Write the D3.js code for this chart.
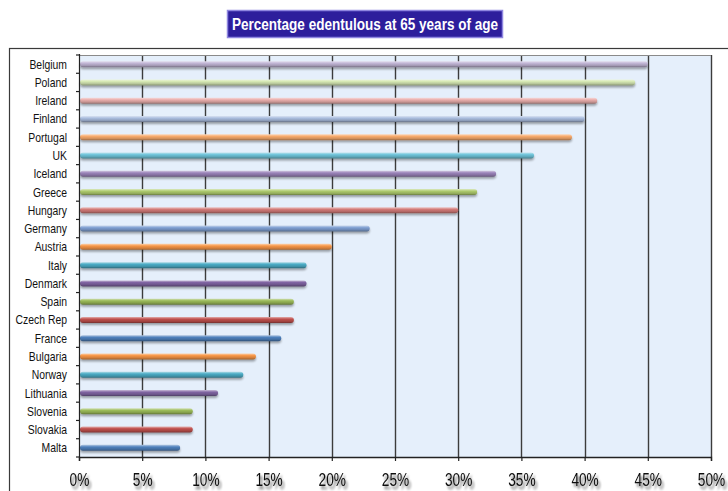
<!DOCTYPE html>
<html>
<head>
<meta charset="utf-8">
<script src="https://cdn.jsdelivr.net/npm/d3@7"></script>
<style>
  html, body { margin: 0; padding: 0; background: #ffffff; }
  svg { display: block; }
</style>
</head>
<body>
<script>
// Countries, top to bottom, and share of people edentulous at age 65 (%)
const countries = ["Belgium","Poland","Ireland","Finland","Portugal","UK","Iceland","Greece","Hungary","Germany","Austria","Italy","Denmark","Spain","Czech Rep","France","Bulgaria","Norway","Lithuania","Slovenia","Slovakia","Malta"];
const values = [45, 44, 41, 40, 39, 36, 33, 31.5, 30, 23, 20, 18, 18, 17, 17, 16, 14, 13, 11, 9, 9, 8];
const barColors = ["#c2b6d6","#d6e8b4","#eaaeac","#abbee0","#f8aa6c","#6fc4da","#9b84ba","#aecb6e","#d27a77","#7f9fd2","#f79646","#4bacc6","#8064a2","#9bbb59","#c0504d","#4f81bd","#f79646","#4bacc6","#8064a2","#9bbb59","#c0504d","#4f81bd"];
const tickValues = [0, 5, 10, 15, 20, 25, 30, 35, 40, 45, 50];
const titleText = "Percentage edentulous at 65 years of age";

const W = 728, H = 491;
const plot = { left: 79, right: 711, top: 55, bottom: 457 };
const FONT = "'Liberation Sans', Arial, sans-serif";

const svg = d3.select("body").append("svg").attr("width", W).attr("height", H);
const defs = svg.append("defs");

// Cylinder-like shading for every bar colour
barColors.forEach((c, i) => {
  const base = d3.color(c);
  const g = defs.append("linearGradient").attr("id", "bar" + i)
    .attr("x1", 0).attr("y1", 0).attr("x2", 0).attr("y2", 1);
  g.append("stop").attr("offset", "0%").attr("stop-color", d3.interpolateRgb(c, "#ffffff")(0.55));
  g.append("stop").attr("offset", "35%").attr("stop-color", base.formatHex());
  g.append("stop").attr("offset", "75%").attr("stop-color", base.darker(0.5).formatHex());
  g.append("stop").attr("offset", "100%").attr("stop-color", base.darker(1.4).formatHex());
});

const shadow = defs.append("filter").attr("id", "txtShadow")
  .attr("x", "-30%").attr("y", "-30%").attr("width", "170%").attr("height", "170%");
shadow.append("feGaussianBlur").attr("in", "SourceAlpha").attr("stdDeviation", 1.6).attr("result", "b");
shadow.append("feOffset").attr("in", "b").attr("dx", 3).attr("dy", 3).attr("result", "o");
shadow.append("feComponentTransfer").attr("in", "o").attr("result", "s")
  .append("feFuncA").attr("type", "linear").attr("slope", 0.6);
const sm = shadow.append("feMerge");
sm.append("feMergeNode").attr("in", "s");
sm.append("feMergeNode").attr("in", "SourceGraphic");

const barShadow = defs.append("filter").attr("id", "barShadow")
  .attr("x", "-5%").attr("y", "-80%").attr("width", "110%").attr("height", "260%");
barShadow.append("feGaussianBlur").attr("in", "SourceAlpha").attr("stdDeviation", 1).attr("result", "b");
barShadow.append("feOffset").attr("in", "b").attr("dx", 0).attr("dy", 1.5).attr("result", "o");
barShadow.append("feComponentTransfer").attr("in", "o").attr("result", "s")
  .append("feFuncA").attr("type", "linear").attr("slope", 0.35);
const bm = barShadow.append("feMerge");
bm.append("feMergeNode").attr("in", "s");
bm.append("feMergeNode").attr("in", "SourceGraphic");

// Outer chart frame
svg.append("rect").attr("x", 9.5).attr("y", 48.5).attr("width", W + 10).attr("height", H)
  .attr("fill", "#ffffff").attr("stroke", "#3a3a3a").attr("stroke-width", 1.2);

// Title banner
const tg = svg.append("g");
tg.append("rect").attr("x", 227.5).attr("y", 10.5).attr("width", 275).attr("height", 27)
  .attr("fill", "#2d1e9c").attr("stroke", "#8f86e0").attr("stroke-width", 1.5);
tg.append("text").attr("x", 232).attr("y", 30)
  .attr("font-family", FONT)
  .attr("font-weight", "bold").attr("font-size", 16).attr("fill", "#ffffff")
  .attr("textLength", 266).attr("lengthAdjust", "spacingAndGlyphs")
  .text(titleText);

// Scales
const x = d3.scaleLinear().domain([0, 50]).range([plot.left, plot.right]);
const y = d3.scaleBand().domain(countries).range([plot.top, plot.bottom]).padding(0);

// Plot background
svg.append("rect").attr("x", plot.left).attr("y", plot.top)
  .attr("width", plot.right - plot.left).attr("height", plot.bottom - plot.top)
  .attr("fill", "#e5effb");

// Vertical grid lines
svg.append("g").selectAll("line").data(tickValues.slice(1)).join("line")
  .attr("x1", d => Math.round(x(d)) + 0.5).attr("x2", d => Math.round(x(d)) + 0.5)
  .attr("y1", plot.top).attr("y2", plot.bottom)
  .attr("stroke", "#3c3c3c").attr("stroke-width", 1.4);

// Plot top border
svg.append("line").attr("x1", plot.left).attr("x2", plot.right)
  .attr("y1", plot.top + 0.5).attr("y2", plot.top + 0.5)
  .attr("stroke", "#8a8a8a").attr("stroke-width", 1.2);

// Bars
const barH = 6;
svg.append("g").selectAll("rect").data(countries).join("rect")
  .attr("x", plot.left + 1)
  .attr("y", d => y(d) + y.bandwidth() / 2 - barH / 2)
  .attr("width", (d, i) => x(values[i]) - plot.left - 1)
  .attr("height", barH)
  .attr("rx", 3).attr("ry", 3)
  .attr("fill", (d, i) => `url(#bar${i})`)
  .attr("filter", "url(#barShadow)");

// Y axis with ticks at band boundaries
const yAxisG = svg.append("g").attr("transform", `translate(${plot.left},0)`);
yAxisG.append("line").attr("x1", 0.5).attr("x2", 0.5).attr("y1", plot.top - 1).attr("y2", plot.bottom)
  .attr("stroke", "#222").attr("stroke-width", 1.2);
const bounds = d3.range(countries.length + 1).map(i => plot.top + i * y.step());
yAxisG.selectAll("line.t").data(bounds).join("line").attr("class", "t")
  .attr("x1", -3).attr("x2", 0).attr("y1", d => d).attr("y2", d => d)
  .attr("stroke", "#222").attr("stroke-width", 1.2);
// condensed category labels
yAxisG.selectAll("text").data(countries).join("text")
  .attr("transform", d => `translate(-12,${y(d) + y.bandwidth() / 2 + 4.5}) scale(0.8,1)`)
  .attr("text-anchor", "end")
  .attr("font-family", FONT)
  .attr("font-size", 13).attr("fill", "#111")
  .text(d => d);

// X axis
const xAxis = d3.axisBottom(x).tickValues(tickValues).tickSize(4).tickFormat(d => d + "%");
const xg = svg.append("g").attr("transform", `translate(0,${plot.bottom})`).call(xAxis);
xg.select(".domain").attr("stroke", "#222").attr("stroke-width", 1.4);
xg.selectAll(".tick line").attr("stroke", "#222").attr("stroke-width", 1.2);
// condensed percentage labels with drop shadow
xg.selectAll(".tick text")
  .attr("y", null).attr("dy", null)
  .attr("transform", "translate(0,29) scale(0.72,1)")
  .attr("font-family", FONT)
  .attr("font-size", 19).attr("fill", "#111")
  .attr("filter", "url(#txtShadow)");
</script>
</body>
</html>
